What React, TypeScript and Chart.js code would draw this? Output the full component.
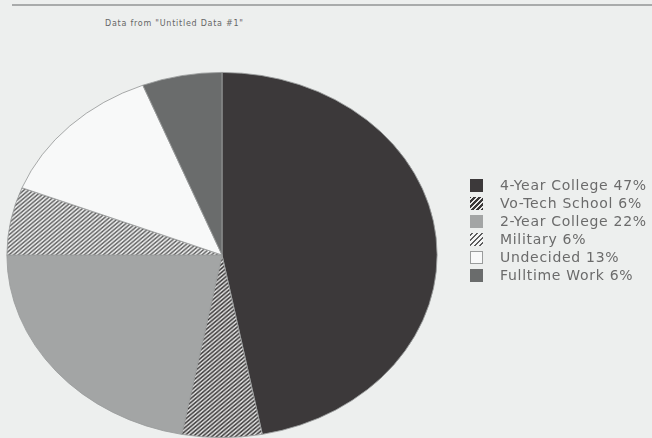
import React, { useEffect, useRef } from "react";
import { Chart, registerables } from "chart.js";

Chart.register(...registerables);

const categories = ["4-Year College", "Vo-Tech School", "2-Year College", "Military", "Undecided", "Fulltime Work"];
const percentages = [47, 6, 22, 6, 13, 6];
const sourceNote = 'Data from "Untitled Data #1"';

type Fill = { kind: "solid"; color: string; border?: string } | { kind: "hatch"; bg: string; fg: string };
const fills: Fill[] = [
  { kind: "solid", color: "#3c393a" },
  { kind: "hatch", bg: "#3a3838", fg: "#e8e8e8" },
  { kind: "solid", color: "#a3a5a5" },
  { kind: "hatch", bg: "#f6f7f7", fg: "#5e5e5e" },
  { kind: "solid", color: "#f8f9f9", border: "#9a9c9c" },
  { kind: "solid", color: "#6a6c6c" },
];

function hatchPattern(bg: string, fg: string): CanvasPattern | string {
  const size = 4;
  const c = document.createElement("canvas");
  c.width = size;
  c.height = size;
  const x = c.getContext("2d");
  if (!x) return bg;
  x.fillStyle = bg;
  x.fillRect(0, 0, size, size);
  x.strokeStyle = fg;
  x.lineWidth = 1.4;
  x.beginPath();
  x.moveTo(0, size);
  x.lineTo(size, 0);
  x.moveTo(-1, 1);
  x.lineTo(1, -1);
  x.moveTo(size - 1, size + 1);
  x.lineTo(size + 1, size - 1);
  x.stroke();
  const p = x.createPattern(c, "repeat");
  return p || bg;
}

// Stretches the drawn pie horizontally about its own centre so it becomes the ellipse of the original.
const stretchPlugin = {
  id: "stretch",
  beforeDatasetsDraw(chart: any, _args: any, opts: any) {
    const arc = chart.getDatasetMeta(0).data[0];
    const ctx = chart.ctx;
    ctx.save();
    if (!arc) return;
    ctx.translate(arc.x, arc.y);
    ctx.scale(opts.sx || 1, opts.sy || 1);
    ctx.translate(-arc.x, -arc.y);
  },
  afterDatasetsDraw(chart: any) {
    chart.ctx.restore();
  },
};

function swatchStyle(f: Fill): React.CSSProperties {
  const base: React.CSSProperties = { width: 13, height: 13, boxSizing: "border-box", flex: "0 0 auto" };
  if (f.kind === "solid") {
    return { ...base, background: f.color, border: f.border ? `1px solid ${f.border}` : "none" };
  }
  return {
    ...base,
    background: `repeating-linear-gradient(-45deg, ${f.bg} 0px, ${f.bg} 2px, ${f.fg} 2px, ${f.fg} 3.5px)`,
  };
}

export default function App() {
  const canvasRef = useRef<HTMLCanvasElement | null>(null);

  useEffect(() => {
    const canvas = canvasRef.current;
    if (!canvas) return;
    const bg = fills.map((f) => (f.kind === "solid" ? f.color : hatchPattern(f.bg, f.fg)));
    const chart = new Chart(canvas, {
      type: "pie",
      data: {
        labels: categories,
        datasets: [
          {
            data: percentages,
            backgroundColor: bg as any,
            borderColor: "#9a9c9c",
            borderWidth: 0.8,
          },
        ],
      },
      options: {
        responsive: false,
        animation: false,
        layout: { padding: { left: 7, right: 215, top: 72, bottom: 0 } },
        plugins: {
          legend: { display: false },
          tooltip: { enabled: false },
          title: { display: false },
          stretch: { sx: 1.178, sy: 1 },
        } as any,
      },
      plugins: [stretchPlugin],
    });
    return () => chart.destroy();
  }, []);

  return (
    <div
      style={{
        position: "fixed",
        left: 0,
        top: 0,
        width: 652,
        height: 438,
        overflow: "hidden",
        background: "#edefee",
        fontFamily: "'DejaVu Sans', sans-serif",
      }}
    >
      <div style={{ position: "absolute", left: 12, top: 4, width: 640, height: 2, background: "#a9abab" }} />
      <div
        style={{
          position: "absolute",
          left: 105,
          top: 19,
          fontSize: 8,
          letterSpacing: 0.75,
          color: "#666666",
          whiteSpace: "nowrap",
        }}
      >
        {sourceNote}
      </div>
      <canvas
        ref={canvasRef}
        width={652}
        height={438}
        style={{ position: "absolute", left: 0, top: 0, width: 652, height: 438 }}
      />
      <div style={{ position: "absolute", left: 470, top: 176 }}>
        {categories.map((c, i) => (
          <div key={c} style={{ display: "flex", alignItems: "center", height: 18 }}>
            <div style={swatchStyle(fills[i])} />
            <span
              style={{
                marginLeft: 17,
                fontSize: 14,
                color: "#6b6b6b",
                whiteSpace: "nowrap",
                letterSpacing: 0.7,
              }}
            >
              {`${c} ${percentages[i]}%`}
            </span>
          </div>
        ))}
      </div>
    </div>
  );
}
